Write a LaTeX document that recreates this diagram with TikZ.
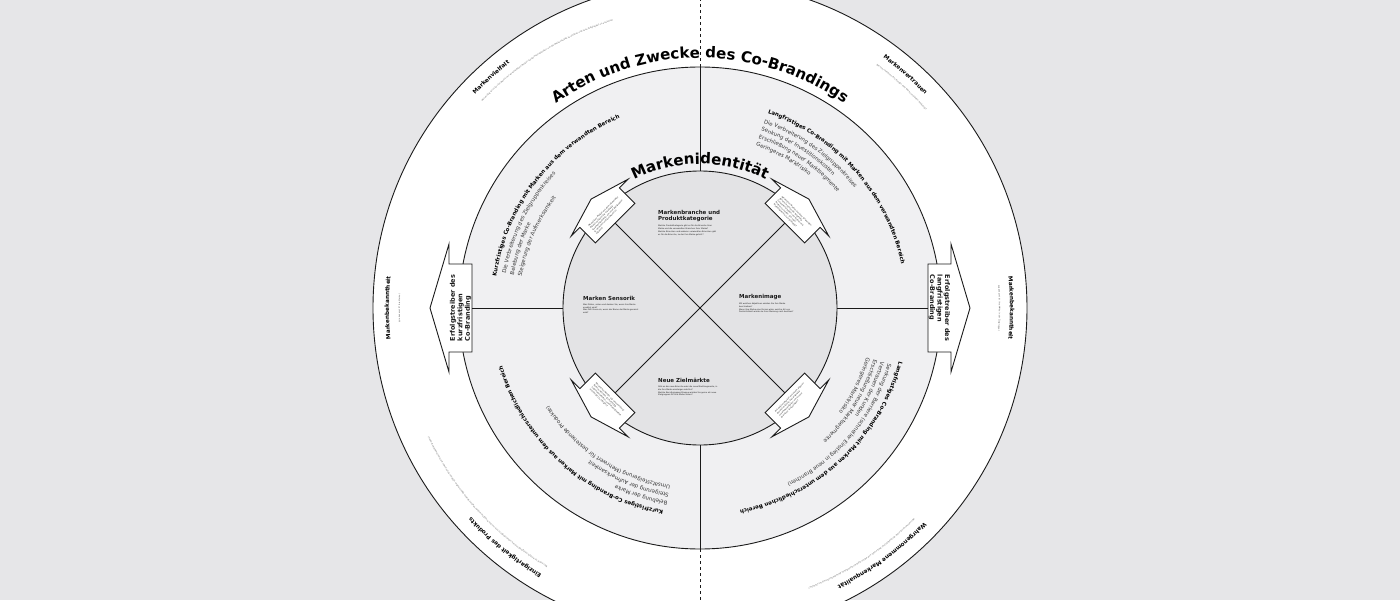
\documentclass[tikz,border=0pt]{standalone}
\usepackage{fontspec}
\setmainfont{DejaVu Sans}
\usetikzlibrary{positioning,decorations.text}

\definecolor{pagegray}{HTML}{E6E6E8}
\definecolor{ringgray}{HTML}{F0F0F2}
\definecolor{diskgray}{HTML}{E3E3E5}
\definecolor{inkgray}{HTML}{1A1A1A}
\definecolor{bodygray}{HTML}{333333}
\definecolor{finegray}{HTML}{555555}

\newcommand{\bigfont}{\bfseries\fontsize{15}{15}\selectfont}
\newcommand{\headfont}{\bfseries\fontsize{5.5}{6.3}\selectfont}
\newcommand{\linefont}{\fontsize{5.4}{6}\selectfont\color{bodygray}}
\newcommand{\labelfont}{\bfseries\fontsize{5.7}{6.5}\selectfont}
\newcommand{\driverfont}{\bfseries\fontsize{6.5}{7.5}\selectfont}
\newcommand{\tinyfont}{\fontsize{2}{2.8}\selectfont}

\tikzset{
  wheel/.style={circle, draw=inkgray, line width=0.9pt, inner sep=0pt, outer sep=0pt},
  divider/.style={draw=inkgray, line width=0.9pt},
  arrowbox/.style={draw=inkgray, fill=white, line width=0.9pt},
  arctext/.style={decorate, decoration={text along path, text align=center, text={#1}}},
  arcline/.style={decorate, decoration={text along path, text={#1}}},
  qtitle/.style={anchor=north west, inner sep=0pt, align=left, font=\headfont, text=inkgray},
  qbody/.style={inner sep=0pt, align=left, font=\tinyfont, text=inkgray},
  driver/.style={inner sep=0pt, align=left, font=\driverfont, text=inkgray},
  note/.style={inner sep=0pt, align=left, font=\tinyfont, text=inkgray}
}

\begin{document}
\begin{tikzpicture}[x=1pt, y=1pt]
   \useasboundingbox (-700,-292) rectangle (700,308);
   \fill[pagegray] (-700,-292) rectangle (700,308);

   \node [wheel, fill=white, minimum size=654pt] (outer) at (0,0) {};
   \node [wheel, fill=ringgray, minimum size=482pt] (ring) at (0,0) {};
   \node [wheel, fill=diskgray, minimum size=274pt] (disk) at (0,0) {};

   \coordinate (topedge) at (0,308);
   \coordinate (botedge) at (0,-292);
   \coordinate (lbase) at (-228,0);
   \coordinate (rbase) at (228,0);
   \coordinate (ulbase) at (135:120);
   \coordinate (urbase) at (45:120);
   \coordinate (llbase) at (225:120);
   \coordinate (lrbase) at (315:120);

   \draw[divider] (disk.north) -- (ring.north);
   \draw[divider] (disk.south) -- (ring.south);
   \draw[divider, dashed] (ring.north) -- (topedge);
   \draw[divider, dashed] (ring.south) -- (botedge);
   \draw[divider] (disk.west) -- (lbase);
   \draw[divider] (disk.east) -- (rbase);
   \draw[divider] (ulbase) -- (lrbase);
   \draw[divider] (urbase) -- (llbase);

   \draw[arrowbox] (lbase) -- (-228,44) -- (-251,44) -- (-251,64) -- (-270,0)
                   -- (-251,-64) -- (-251,-44) -- (-228,-44) -- cycle;
   \draw[arrowbox] (rbase) -- (228,44) -- (251,44) -- (251,64) -- (270,0)
                   -- (251,-64) -- (251,-44) -- (228,-44) -- cycle;
   \draw[arrowbox, rotate=45] (120,-28) -- (142,-28) -- (142,-40) -- (154,0)
                   -- (142,40) -- (142,28) -- (120,28) -- cycle;
   \draw[arrowbox, rotate=135] (120,-28) -- (142,-28) -- (142,-40) -- (154,0)
                   -- (142,40) -- (142,28) -- (120,28) -- cycle;
   \draw[arrowbox, rotate=225] (120,-28) -- (142,-28) -- (142,-40) -- (154,0)
                   -- (142,40) -- (142,28) -- (120,28) -- cycle;
   \draw[arrowbox, rotate=315] (120,-28) -- (142,-28) -- (142,-40) -- (154,0)
                   -- (142,40) -- (142,28) -- (120,28) -- cycle;

   \node [driver, rotate=90] (kurzdriver) at (-239.5,0) {Erfolgstreiber des\\kurzfristigen\\Co-Branding};
   \node [driver, rotate=-90] (langdriver) at (239.5,0) {Erfolgstreiber des\\langfristigen\\Co-Branding};

   \node [note, rotate=45] (ulnote) at (135:131) {Mit welchen Marken aus dem verwandten\\Bereich möchten Sie kurzfristig\\zusammenarbeiten, um neue Zielgruppen\\zu erreichen und Ihre Marke zu\\beleben?};
   \node [note, rotate=-45] (urnote) at (45:131) {Mit welchen Marken aus dem verwandten\\Bereich möchten Sie langfristig\\zusammenarbeiten, um Kosten und\\Risiken zu senken und neue\\Marktsegmente zu erschließen?};
   \node [note, rotate=-45] (llnote) at (225:131) {Mit welchen Marken aus einem anderen\\Bereich möchten Sie kurzfristig\\zusammenarbeiten, um Aufmerksamkeit\\und Umsatz zu steigern?};
   \node [note, rotate=45] (lrnote) at (315:131) {Mit welchen Marken aus einem anderen\\Bereich möchten Sie langfristig\\zusammenarbeiten, um in neue\\Branchen einzusteigen?};

   \node [qtitle] (branchetitle) at (-42,98) {Markenbranche und\\Produktkategorie};
   \node [qbody, below=3pt of branchetitle.south west, anchor=north west] (branchebody) {Welche Produktkategorie gibt es für die Branche Ihrer\\Marke und die verwandten Branchen Ihrer Marke?\\Welche Branchen und anderen verwandten Branchen gibt\\es für die Branche, zu der Ihre Marke gehört?};
   \node [qtitle] (sensoriktitle) at (-117,12) {Marken Sensorik};
   \node [qbody, below=3pt of sensoriktitle.south west, anchor=north west] (sensorikbody) {Was fühlen, sehen und denken Sie, wenn Ihre Marke\\erwähnt wird?\\Was fällt Ihnen ein, wenn der Name der Marke genannt\\wird?};
   \node [qtitle] (imagetitle) at (39,14) {Markenimage};
   \node [qbody, below=3pt of imagetitle.south west, anchor=north west] (imagebody) {Mit welchen Adjektiven würden Sie Ihre Marke\\beschreiben?\\Wenn Ihre Marke eine Person wäre, welche Art von\\Persönlichkeit würde sie Ihrer Meinung nach besitzen?};
   \node [qtitle] (zieltitle) at (-42,-70) {Neue Zielmärkte};
   \node [qbody, below=3pt of zieltitle.south west, anchor=north west] (zielbody) {Gibt es die neue Branche oder die neue Marktsegmente, in\\die Ihre Marke einsteigen möchte?\\Welche Berufsgruppen/Gruppe würden Sie gerne als neue\\Zielgruppen für Ihre Marke sehen?};

   \path[arctext={|\bigfont|Arten und Zwecke des Co-Brandings}] (170:250) arc[start angle=170, end angle=10, radius=250];
   \path[arctext={|\bigfont|Markenidentität}] (170:144) arc[start angle=170, end angle=10, radius=144];

   \path[arctext={|\headfont|Kurzfristiges Co-Branding mit Marken aus dem verwandten Bereich}] (222:206) arc[start angle=222, end angle=62, radius=206];
   \path[arcline={|\linefont|Die Verbreiterung des Zielgruppenkreises}] (170:197) arc[start angle=170, end angle=80, radius=197];
   \path[arcline={|\linefont|Belebung der Marke}] (170:189) arc[start angle=170, end angle=80, radius=189];
   \path[arcline={|\linefont|Steigerung der Aufmerksamkeit}] (170:181) arc[start angle=170, end angle=80, radius=181];

   \path[arctext={|\headfont|Langfristiges Co-Branding mit Marken aus dem verwandten Bereich}] (121.5:206) arc[start angle=121.5, end angle=-38.5, radius=206];
   \path[arcline={|\linefont|Die Verbreiterung des Zielgruppenkreises}] (71:195.5) arc[start angle=71, end angle=-19, radius=195.5];
   \path[arcline={|\linefont|Senkung der Investitionskosten}] (71:187.5) arc[start angle=71, end angle=-19, radius=187.5];
   \path[arcline={|\linefont|Erschließung neuer Marktsegmente}] (71:179.5) arc[start angle=71, end angle=-19, radius=179.5];
   \path[arcline={|\linefont|Geringeres Marktrisiko}] (71:171.5) arc[start angle=71, end angle=-19, radius=171.5];

   \path[arctext={|\headfont|Kurzfristiges Co-Branding mit Marken aus dem unterschiedlichen Bereich}] (308:206) arc[start angle=308, end angle=148, radius=206];
   \path[arcline={|\linefont|Belebung der Marke}] (260.5:196) arc[start angle=260.5, end angle=160.5, radius=196];
   \path[arcline={|\linefont|Steigerung der Aufmerksamkeit}] (260.5:188) arc[start angle=260.5, end angle=160.5, radius=188];
   \path[arcline={|\linefont|Umsatzsteigerung (Mehrwert für bestehende Produkte)}] (260.5:180) arc[start angle=260.5, end angle=160.5, radius=180];

   \path[arctext={|\headfont|Langfristiges Co-Branding mit Marken aus dem unterschiedlichen Bereich}] (33:206) arc[start angle=33, end angle=-127, radius=206];
   \path[arcline={|\linefont|Senkung der Barriere (schneller Einstieg in neue Branchen)}] (-16.5:196) arc[start angle=-16.5, end angle=-116.5, radius=196];
   \path[arcline={|\linefont|Vertrauen der Kunden}] (-16.5:188.5) arc[start angle=-16.5, end angle=-116.5, radius=188.5];
   \path[arcline={|\linefont|Erschließung neuer Marktsegmente}] (-16.5:181) arc[start angle=-16.5, end angle=-116.5, radius=181];
   \path[arcline={|\linefont|Geringeres Marktrisiko}] (-16.5:173.5) arc[start angle=-16.5, end angle=-116.5, radius=173.5];

   \path[arcline={|\labelfont|Markenvielfalt}] (136.5:310) arc[start angle=136.5, end angle=60, radius=310];
   \path[arcline={|\tinyfont\color{finegray}|Wie wichtig ist es für Ihre Marke, mit verschiedenen Marken zusammenzuarbeiten, um die Markenvielfalt zu erhöhen und neue Zielgruppen zu erreichen?}] (136.5:300) arc[start angle=136.5, end angle=60, radius=300];
   \path[arcline={|\labelfont|Markenvertrauen}] (53.8:310) arc[start angle=53.8, end angle=-20, radius=310];
   \path[arcline={|\tinyfont\color{finegray}|Wie sehr vertrauen Ihre Kunden Ihrer Marke und deren Produkten?}] (54:300) arc[start angle=54, end angle=-20, radius=300];
   \path[arcline={|\labelfont|Einzigartigkeit des Produkts}] (239.3:310) arc[start angle=239.3, end angle=160, radius=310];
   \path[arcline={|\tinyfont\color{finegray}|Was macht Ihr Produkt einzigartig und wie unterscheidet es sich von den Produkten anderer Marken? Welche Eigenschaften schätzen Ihre Kunden an Ihrem Produkt besonders?}] (239.5:300) arc[start angle=239.5, end angle=160, radius=300];
   \path[arcline={|\labelfont|Wahrgenommene Markenqualität}] (-43.7:310) arc[start angle=-43.7, end angle=-120, radius=310];
   \path[arcline={|\tinyfont\color{finegray}|Wie nehmen Ihre Kunden die Qualität Ihrer Marke wahr und welche Faktoren beeinflussen diese Wahrnehmung am stärksten?}] (-44.5:300) arc[start angle=-44.5, end angle=-120, radius=300];
   \path[arctext={|\labelfont|Markenbekanntheit}] (270:311) arc[start angle=270, end angle=90, radius=311];
   \path[arctext={|\tinyfont\color{finegray}|Wie bekannt ist Ihre Marke?}] (270:300) arc[start angle=270, end angle=90, radius=300];
   \path[arctext={|\labelfont|Markenbekanntheit}] (90:310) arc[start angle=90, end angle=-90, radius=310];
   \path[arctext={|\tinyfont\color{finegray}|Wie bekannt ist Ihre Marke in der Zielgruppe?}] (90:299) arc[start angle=90, end angle=-90, radius=299];
\end{tikzpicture}
\end{document}
